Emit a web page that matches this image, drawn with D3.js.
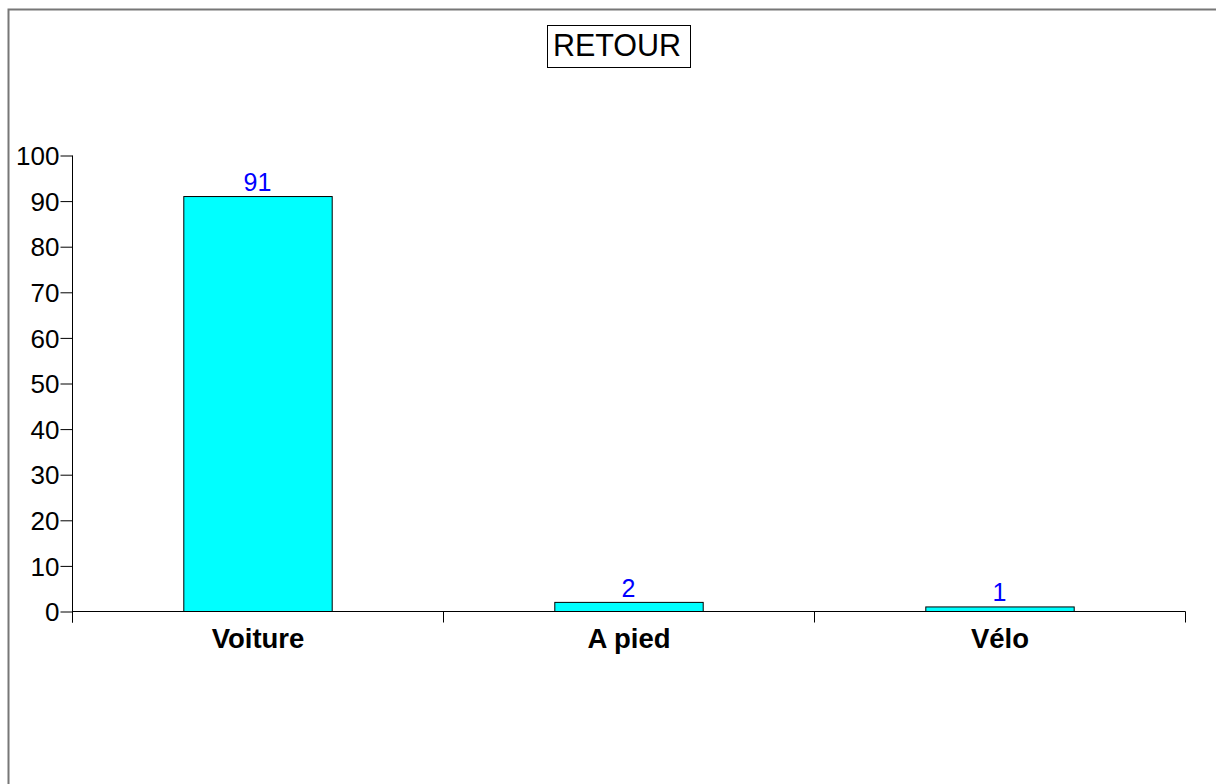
<!DOCTYPE html>
<html><head><meta charset="utf-8">
<script src="https://cdn.jsdelivr.net/npm/d3@7"></script>
<style>html,body{margin:0;padding:0;background:#fff;}svg{display:block;font-family:"Liberation Sans",Arial,sans-serif;}</style>
</head><body>
<svg id="c" width="1216" height="784"></svg>
<script>
const categories = ["Voiture", "A pied", "Vélo"];
const values = [91, 2, 1];
const yTicks = [0, 10, 20, 30, 40, 50, 60, 70, 80, 90, 100];
const title = "RETOUR";

const svg = d3.select("#c");
// outer frame (top and left only visible)
svg.append("path").attr("d", "M8.5,784 V9.5 H1216").attr("fill", "none").attr("stroke", "#777").attr("stroke-width", 2);

const x = d3.scaleBand().domain(categories).range([72, 1185]).paddingInner(0.6).paddingOuter(0.3);
const y = d3.scaleLinear().domain([0, 100]).range([611, 155]);

// bars
svg.selectAll("rect.bar").data(values).join("rect").attr("class", "bar")
  .attr("x", (d, i) => x(categories[i]) + 0.5)
  .attr("y", d => y(d) + 0.5)
  .attr("width", x.bandwidth())
  .attr("height", d => y(0) - y(d))
  .attr("fill", "#00ffff").attr("stroke", "#000").attr("stroke-width", 1);

// y axis
const yAxis = d3.axisLeft(y).tickValues(yTicks).tickSize(12).tickPadding(1);
const gy = svg.append("g").attr("transform", "translate(72.5,0.5)").call(yAxis);
gy.attr("font-size", null).attr("font-family", null);
gy.select(".domain").attr("d", `M0,${y(100)}V${y(0) + 11}`).attr("stroke", "#000");
gy.selectAll(".tick line").attr("stroke", "#000");
gy.selectAll("text").attr("font-size", 26).attr("fill", "#000").attr("dy", "0.35em");

// x axis
const gx = svg.append("g").attr("transform", `translate(0.5,${y(0) + 0.5})`);
gx.append("line").attr("x1", 72).attr("x2", 1185).attr("stroke", "#000");
const bounds = [72, 72 + (1185 - 72) / 3, 72 + 2 * (1185 - 72) / 3, 1185];
gx.selectAll("line.t").data(bounds).join("line").attr("class", "t")
  .attr("x1", d => Math.round(d)).attr("x2", d => Math.round(d)).attr("y1", 0).attr("y2", 11).attr("stroke", "#000");
gx.selectAll("text").data(categories).join("text")
  .attr("x", d => x(d) + x.bandwidth() / 2).attr("y", 36)
  .attr("text-anchor", "middle").attr("font-size", 27.5).attr("font-weight", "bold").attr("fill", "#000")
  .text(d => d);

// value labels
svg.selectAll("text.val").data(values).join("text").attr("class", "val")
  .attr("x", (d, i) => x(categories[i]) + x.bandwidth() / 2)
  .attr("y", d => y(d) - 5)
  .attr("text-anchor", "middle").attr("font-size", 25).attr("fill", "#0000ff")
  .text(d => d);

// title box
svg.append("rect").attr("x", 547.5).attr("y", 25.5).attr("width", 143).attr("height", 42).attr("fill", "#fff").attr("stroke", "#000");
svg.append("text").attr("x", 617).attr("y", 56).attr("text-anchor", "middle").attr("font-size", 30.5).attr("fill", "#000").text(title);
</script>
</body></html>
